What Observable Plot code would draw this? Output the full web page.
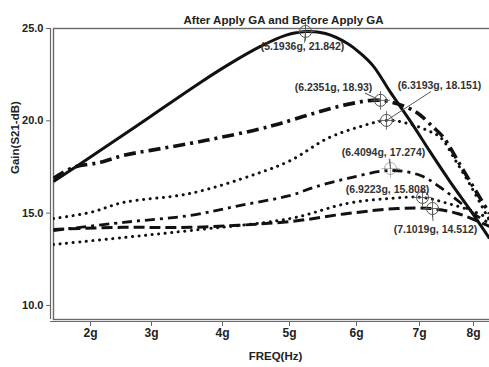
<!DOCTYPE html>
<html>
<head>
<meta charset="utf-8">
<script src="https://cdn.jsdelivr.net/npm/d3@7"></script>
<script src="https://cdn.jsdelivr.net/npm/@observablehq/plot@0.6"></script>
<style>
  html, body { margin: 0; padding: 0; background: #fff; overflow: hidden; }
  #chart svg { display: block; overflow: hidden; }
</style>
</head>
<body>
<div id="chart"></div>
<script>
// ---- data ----
const title = "After Apply GA and Before Apply GA";
const xLabel = "FREQ(Hz)";
const yLabel = "Gain(S21-dB)";
const freqTicks = [2, 3, 4, 5, 6, 7, 8];
const freqTickLabels = ["2g", "3g", "4g", "5g", "6g", "7g", "8g"];
const gainTicks = [10, 15, 20, 25];

// series 1: solid
const solidFreq = [1.393, 2.164, 2.984, 3.690, 4.119, 4.567, 4.940, 5.239, 5.537, 5.866, 6.063, 6.270, 6.540, 6.857, 7.204, 7.574, 7.944, 8.296];
const solidGain = [16.72, 18.40, 20.24, 22.08, 23.11, 24.03, 24.63, 24.84, 24.73, 24.19, 23.65, 22.95, 21.54, 19.97, 18.29, 16.67, 15.15, 13.63];
// series 2: thick dash-dot
const dashDotAFreq = [1.393, 1.721, 2.164, 2.541, 2.984, 3.549, 3.972, 4.522, 4.866, 5.358, 5.866, 6.381, 6.905, 7.259, 7.444, 7.759, 8.037, 8.296];
const dashDotAGain = [16.88, 17.48, 17.75, 18.13, 18.40, 18.78, 19.10, 19.53, 19.86, 20.40, 20.89, 21.11, 20.56, 19.64, 19.10, 17.58, 16.23, 14.98];
// series 3: upper dotted
const dottedAFreq = [1.393, 2.0, 2.541, 3.549, 4.522, 5.015, 5.567, 6.016, 6.476, 6.810, 7.148, 7.389, 7.667, 7.944, 8.296];
const dottedAGain = [14.71, 15.04, 15.58, 16.07, 17.15, 17.85, 19.05, 19.64, 20.02, 19.86, 19.48, 19.10, 17.85, 16.50, 14.60];
// series 4: lower dash-dot
const dashDotBFreq = [1.393, 2.541, 3.549, 4.269, 5.015, 5.358, 5.866, 6.540, 7.019, 7.389, 7.704, 8.0, 8.296];
const dashDotBGain = [14.06, 14.50, 14.88, 15.42, 15.96, 16.39, 16.88, 17.31, 17.04, 16.39, 15.69, 14.98, 14.44];
// series 5: lower dotted
const dottedBFreq = [1.393, 2.541, 3.549, 5.015, 5.866, 6.540, 7.056, 7.519, 8.0, 8.296];
const dottedBGain = [13.30, 13.68, 14.06, 14.71, 15.53, 15.80, 15.85, 15.53, 15.09, 14.71];
// series 6: dashed
const dashedFreq = [1.393, 2.541, 3.549, 5.015, 5.866, 6.651, 7.204, 7.704, 8.130, 8.296];
const dashedGain = [14.12, 14.23, 14.23, 14.55, 14.98, 15.25, 15.25, 14.98, 14.50, 14.28];

// annotated peak markers
const markerFreq = [5.239, 6.381, 6.476, 6.540, 7.056, 7.241];
const markerGain = [24.84, 21.11, 20.02, 17.42, 15.85, 15.25];
const markerText = ["(5.1936g, 21.842)", "(6.2351g, 18.93)", "(6.3193g, 18.151)", "(6.4094g, 17.274)", "(6.9223g, 15.808)", "(7.1019g, 14.512)"];

// ---- styling (not data) ----
const seriesDefs = [
  {name: "solid", f: solidFreq, g: solidGain, w: 3, dash: null, cap: "butt"},
  {name: "dashDotA", f: dashDotAFreq, g: dashDotAGain, w: 3.6, dash: "12 5 3 5", cap: "butt"},
  {name: "dottedA", f: dottedAFreq, g: dottedAGain, w: 3, dash: "0.1 6.5", cap: "round"},
  {name: "dashDotB", f: dashDotBFreq, g: dashDotBGain, w: 2.8, dash: "10 5 3 5", cap: "butt"},
  {name: "dottedB", f: dottedBFreq, g: dottedBGain, w: 3, dash: "0.1 6.5", cap: "round"},
  {name: "dashed", f: dashedFreq, g: dashedGain, w: 3, dash: "11 5", cap: "butt"}
];
const labelOffsets = [[-3, 15], [-47, -13], [53, -35], [-7, -16], [-35, -8], [3, 21]];
const leaders = [{len: 9, rot: 185}, {len: 14, rot: -65}, {len: 44, rot: 57}, {len: 8, rot: -8}, null, {len: 10, rot: 178}];
const markerOpacity = [1, 1, 1, 0.45, 1, 1];

const rows = seriesDefs.flatMap(s => s.f.map((f, i) => ({series: s.name, freq: f, gain: s.g[i]})));
const markers = markerFreq.map((f, i) => ({freq: f, gain: markerGain[i], text: markerText[i], i}));

const xDomain = [1.393, ...freqTicks, 8.296];
const xRange = [53, 90, 151, 222, 289, 356, 419, 473, 489];
const yDomain = [9.24, 25.0];

const lineShape = {draw(context, l) { context.moveTo(0, 0); context.lineTo(0, -l); }};

const fontFamily = "'Liberation Sans', Arial, Helvetica, sans-serif";

const marks = [
  Plot.frame({stroke: "#6a6a6a", strokeWidth: 1.4, insetRight: -6}),
  Plot.ruleX([xDomain[0]], {y1: yDomain[0], y2: yDomain[1], dx: -3, stroke: "#6a6a6a", strokeWidth: 1.2}),
  Plot.ruleY([yDomain[0]], {x1: xDomain[0], x2: xDomain[xDomain.length - 1], dy: 2, dx: -3, stroke: "#6a6a6a", strokeWidth: 1.2}),
  Plot.ruleY([yDomain[0]], {x1: xDomain[0], x2: xDomain[xDomain.length - 1], dy: 2, dx: 6, stroke: "#6a6a6a", strokeWidth: 1.2}),
  Plot.axisY({ticks: gainTicks, tickFormat: d => d.toFixed(1), tickSize: 4, tickPadding: 3, dx: -3, stroke: "#666", fill: "#222", fontWeight: "bold", fontSize: 11, label: null}),
  Plot.axisX({ticks: freqTicks, tickFormat: (d, i) => freqTickLabels[freqTicks.indexOf(d)], tickSize: 5, tickPadding: 2, dy: 2, stroke: "#666", fill: "#222", fontWeight: "bold", fontSize: 12, label: null}),
  ...seriesDefs.map(s => Plot.line(rows.filter(r => r.series === s.name), {
    x: "freq", y: "gain", curve: "catmull-rom", stroke: "#111", strokeWidth: s.w,
    strokeDasharray: s.dash, strokeLinecap: s.cap, strokeLinejoin: "round", clip: true
  })),
  ...markers.map(m => leaders[m.i] ? Plot.vector([m], {x: "freq", y: "gain", length: () => leaders[m.i].len, rotate: () => leaders[m.i].rot, anchor: "start", shape: lineShape, stroke: "#555", strokeWidth: 0.9}) : null).filter(Boolean),
  ...markers.map(m => Plot.dot([m], {x: "freq", y: "gain", r: 6, stroke: "#555", strokeWidth: 1, fill: "none", strokeOpacity: markerOpacity[m.i]})),
  ...markers.map(m => Plot.dot([m], {x: "freq", y: "gain", r: 6, symbol: "plus", stroke: "#555", strokeWidth: 0.9, fill: "none", strokeOpacity: markerOpacity[m.i]})),
  ...markers.map(m => Plot.text([m], {x: "freq", y: "gain", text: "text", dx: labelOffsets[m.i][0], dy: labelOffsets[m.i][1], fill: "#333", fontWeight: "bold", fontSize: 10.5})),
  Plot.text([title], {frameAnchor: "top", dx: 12, dy: -13, fontWeight: "bold", fontSize: 11.5, fill: "#222"}),
  Plot.text([xLabel], {frameAnchor: "bottom", dx: 4, dy: 40, fontWeight: "bold", fontSize: 11.5, fill: "#222"}),
  Plot.text([yLabel], {frameAnchor: "left", dx: -38, rotate: -90, fontWeight: "bold", fontSize: 11.5, fill: "#222"})
];

const chart = Plot.plot({
  width: 489,
  height: 367,
  marginLeft: 53,
  marginRight: 0,
  marginTop: 28,
  marginBottom: 48,
  style: {fontFamily, background: "#fff", overflow: "hidden"},
  x: {type: "linear", domain: xDomain, range: xRange},
  y: {domain: yDomain},
  marks
});
document.getElementById("chart").appendChild(chart);
</script>
</body>
</html>
